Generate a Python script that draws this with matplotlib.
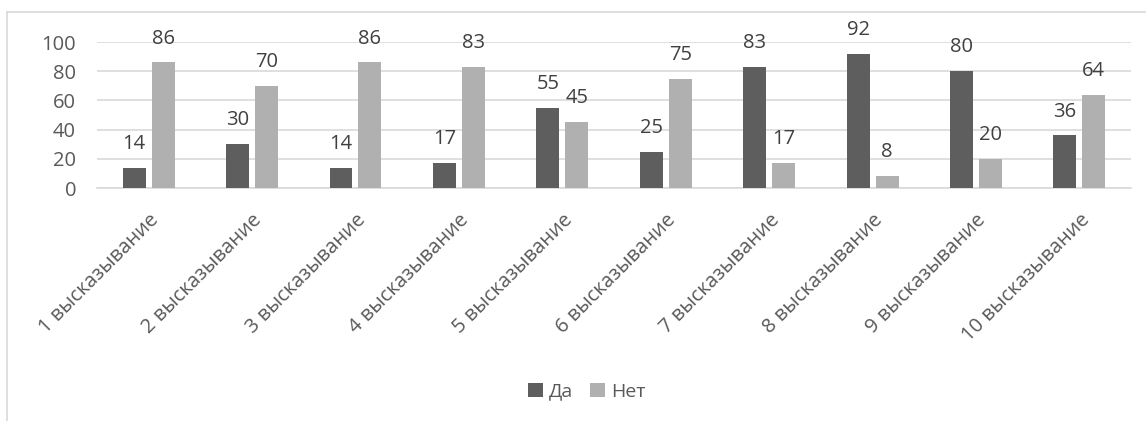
import matplotlib
matplotlib.use("Agg")
import matplotlib.pyplot as plt
import numpy as np
from matplotlib.lines import Line2D
from matplotlib.transforms import ScaledTranslation

categories = ["1 высказывание", "2 высказывание", "3 высказывание", "4 высказывание",
              "5 высказывание", "6 высказывание", "7 высказывание", "8 высказывание",
              "9 высказывание", "10 высказывание"]
da = [14, 30, 14, 17, 55, 25, 83, 92, 80, 36]
net = [86, 70, 86, 83, 45, 75, 17, 8, 20, 64]
series_names = ["Да", "Нет"]
yticks = [0, 20, 40, 60, 80, 100]

plt.rcParams['font.family'] = ['Open Sans', 'DejaVu Sans']

fig = plt.figure(figsize=(11.46, 4.21), dpi=100)
ax = fig.add_axes([0.0846, 0.5534, 0.9024, 0.3468])

x = np.arange(len(categories))
w = 0.222
off = 0.14
c_da = "#5e5e5e"
c_net = "#b0b0b0"
b1 = ax.bar(x - off, da, w, color=c_da, label=series_names[0], zorder=3)
b2 = ax.bar(x + off, net, w, color=c_net, label=series_names[1], zorder=3)

for bars, vals in ((b1, da), (b2, net)):
    for r, v in zip(bars, vals):
        ax.annotate(str(v), (r.get_x() + r.get_width() / 2, v), xytext=(0, 10),
                    textcoords="offset points", ha="center", va="bottom",
                    fontsize=14.5, color="#404040")

ax.set_xlim(-0.5, len(categories) - 0.5)
ax.set_ylim(0, 100)
ax.set_yticks(yticks)
ax.set_yticklabels([str(t) for t in yticks], fontsize=14.5, color="#595959")
ax.set_xticks(x)
ax.set_xticklabels(categories, rotation=45, ha="right", rotation_mode="anchor",
                   fontsize=14.5, color="#595959")
shift = ScaledTranslation(-6 / 100, 0, fig.dpi_scale_trans)
for lbl in ax.get_xticklabels():
    lbl.set_transform(lbl.get_transform() + shift)
ax.tick_params(axis="both", length=0)
ax.tick_params(axis="y", pad=15)
ax.tick_params(axis="x", pad=16)
ax.grid(axis="y", color="#d9d9d9", linewidth=1.2, zorder=0)
for s in ["top", "right", "left"]:
    ax.spines[s].set_visible(False)
ax.spines["bottom"].set_color("#d9d9d9")
ax.spines["bottom"].set_linewidth(1.2)

leg = fig.legend(handles=[b1, b2], labels=series_names, loc="center",
                 bbox_to_anchor=(0.512, 0.07), ncol=2, frameon=False,
                 fontsize=14, handlelength=0.75, handleheight=0.75,
                 handletextpad=0.3, columnspacing=0.9)
for t in leg.get_texts():
    t.set_color("#595959")

# chart frame (left and top edges visible)
fig.add_artist(Line2D([7 / 1146, 7 / 1146], [0, 1 - 12 / 421], color="#d9d9d9", lw=1.2,
                      transform=fig.transFigure))
fig.add_artist(Line2D([7 / 1146, 1], [1 - 12 / 421, 1 - 12 / 421], color="#d9d9d9", lw=1.2,
                      transform=fig.transFigure))

fig.savefig("out.png", dpi=100)
